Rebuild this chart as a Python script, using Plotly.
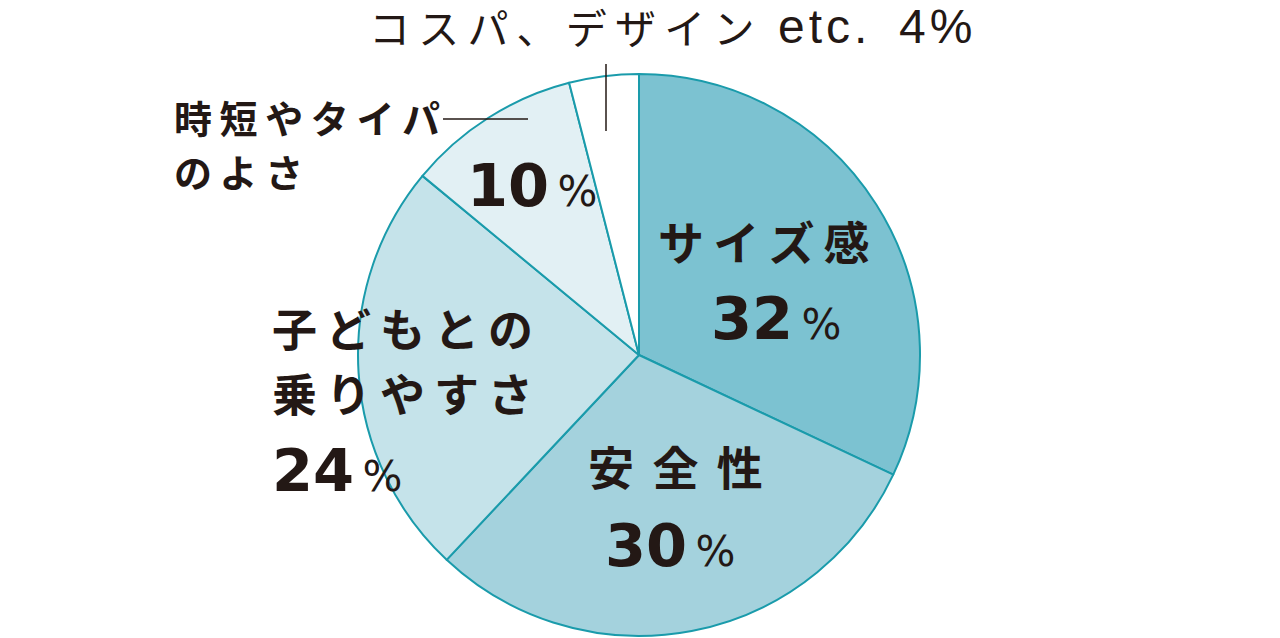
import plotly.graph_objects as go

labels = ["サイズ感", "安全性", "子どもとの乗りやすさ", "時短やタイパのよさ", "コスパ、デザイン etc."]
values = [32, 30, 24, 10, 4]
colors = ["#7cc2d1", "#a4d2dd", "#c5e3ea", "#e2f0f4", "#ffffff"]

ink = "#231815"
jp = "Noto Sans CJK JP"
latin = "Liberation Sans"
TS = "\u2009"  # thin space, used as letter spacing
HS = "\u200a"  # hair space
OFF = 8  # page body margin

fig = go.Figure()
fig.add_trace(go.Pie(
    labels=labels,
    values=values,
    sort=False,
    direction="clockwise",
    rotation=0,
    textinfo="none",
    hoverinfo="label+percent",
    marker=dict(colors=colors, line=dict(color="#1a9bab", width=2)),
    domain=dict(x=[350 / 1280, 912 / 1280], y=[10 / 638, 572 / 638]),
    showlegend=False,
))


def spaced(s, sep=TS):
    return sep.join(s)


def px(x):
    return (x - OFF) / 1280


def py(y):
    return 1 - (y - OFF) / 638


def note(text, x, y, size, weight=700, xanchor="center", family=jp):
    fig.add_annotation(
        text=text, x=px(x), y=py(y), xref="paper", yref="paper",
        showarrow=False, xanchor=xanchor, yanchor="middle",
        font=dict(family=family, size=size, color=ink, weight=weight),
    )


def pct(v, x, y, xanchor="center"):
    txt = f"{v}<span style='font-weight:normal;font-size:42px'>{TS}%</span>"
    note(txt, x, y, 59, 700, xanchor, "DejaVu Sans")


# top label: kana part + latin part
note(spaced("コスパ、デザイン"), 367, 26, 41, 400, "left")
note(spaced("etc.", HS), 776, 26, 48, 400, "left", latin)
note(f"{values[4]}{HS}%", 897, 26, 48, 400, "left", latin)

note(spaced("時短やタイパ"), 172, 117, 38, 700, "left")
note(spaced("のよさ"), 172, 170, 38, 700, "left")
pct(values[3], 532, 185)
note(spaced(labels[0]), 764, 240, 46, 700)
pct(values[0], 776, 318)
note(spaced(labels[1], TS + TS), 675, 465, 46, 700)
pct(values[1], 670, 545)
note(spaced("子どもとの"), 270, 327, 45, 700, "left")
note(spaced("乗りやすさ"), 270, 392, 45, 700, "left")
pct(values[2], 270, 470, "left")

# leader lines
fig.add_shape(type="line", x0=px(606), x1=px(606), y0=py(64), y1=py(131),
              xref="paper", yref="paper", line=dict(color=ink, width=1.5))
fig.add_shape(type="line", x0=px(443), x1=px(528), y0=py(119), y1=py(119),
              xref="paper", yref="paper", line=dict(color=ink, width=1.5))

fig.update_layout(
    width=1280, height=638,
    margin=dict(l=0, r=0, t=0, b=0),
    paper_bgcolor="white", plot_bgcolor="white",
)

fig.write_html("out.html")
